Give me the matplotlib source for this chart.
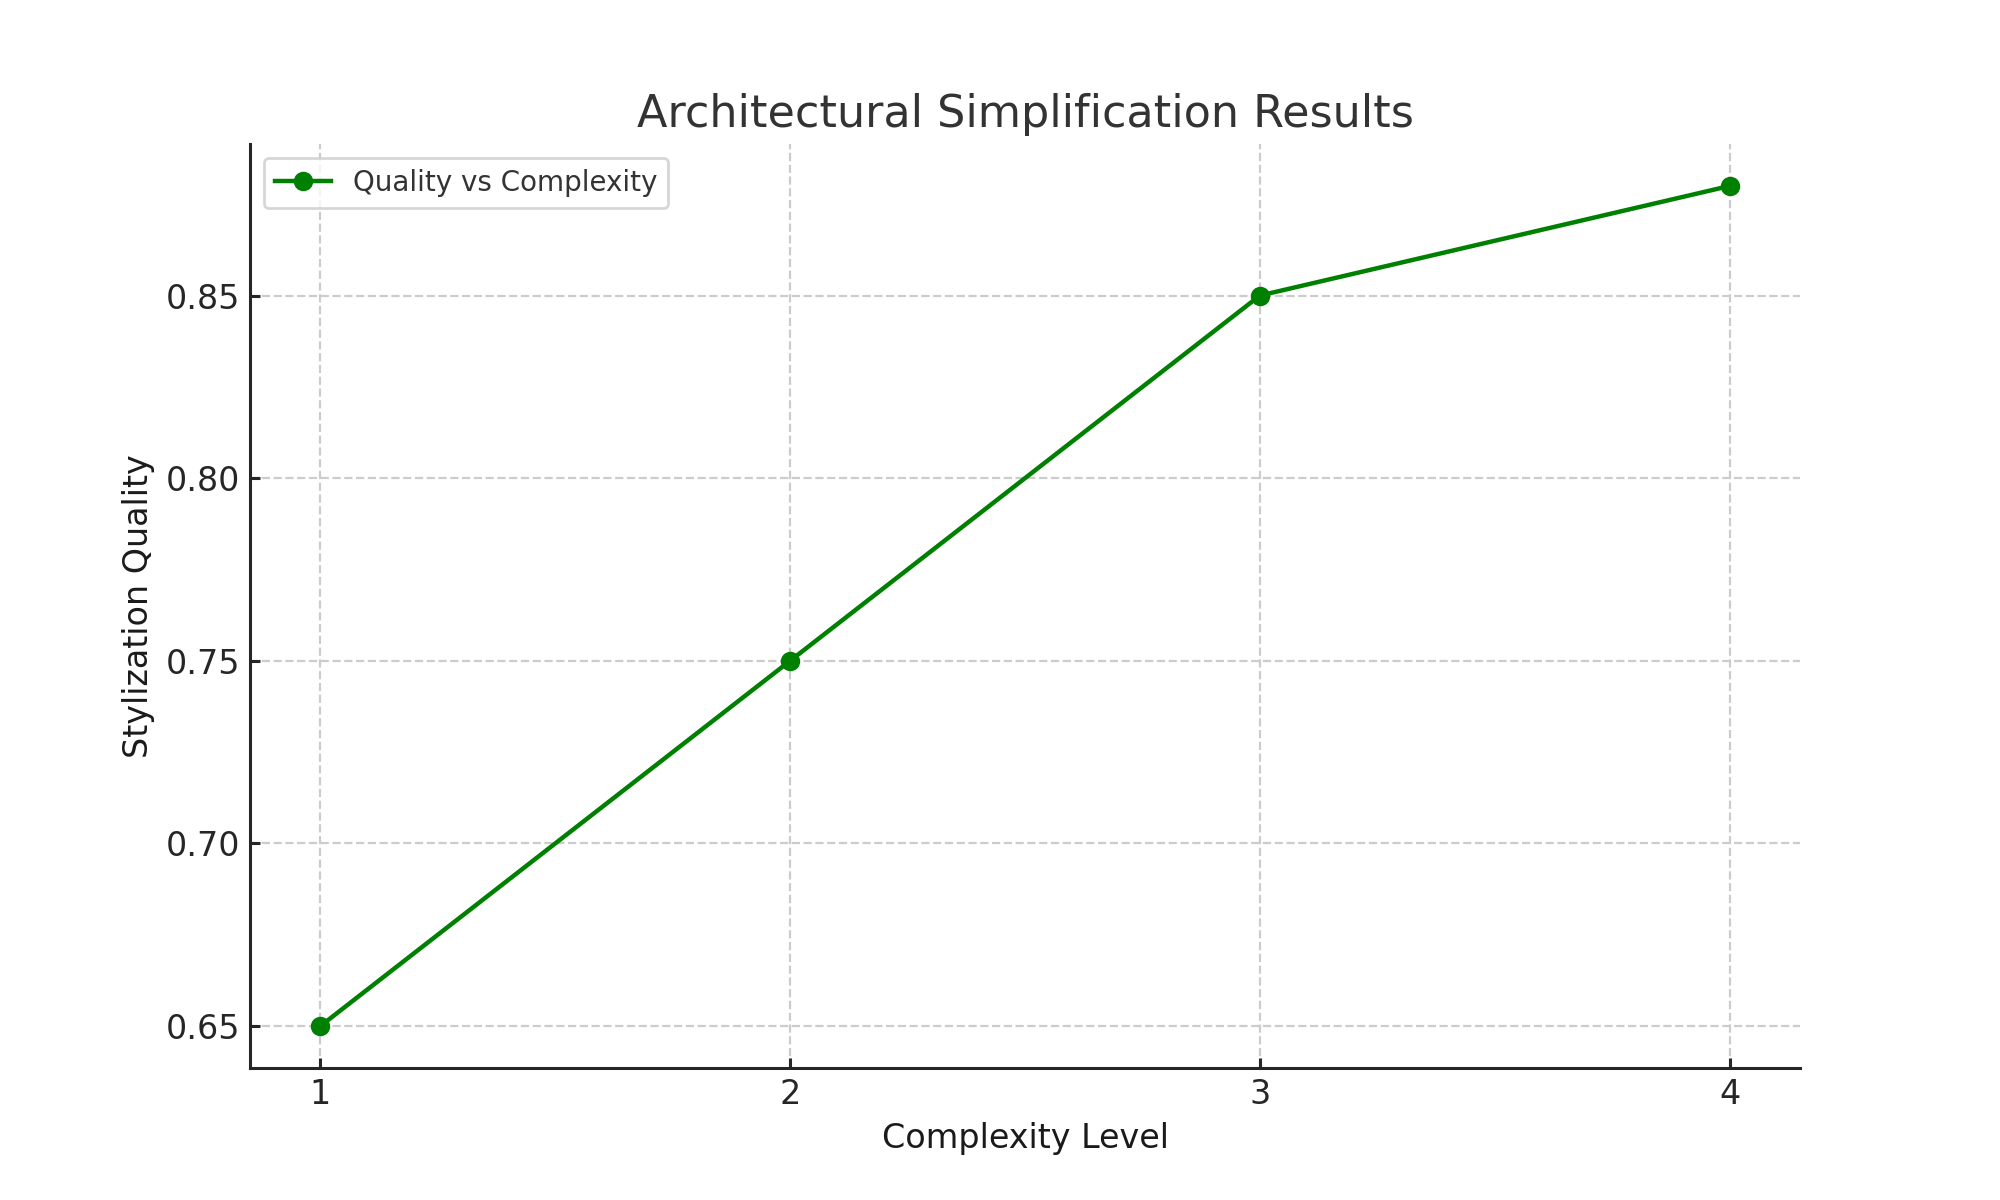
import matplotlib
matplotlib.use("Agg")
import matplotlib.pyplot as plt

complexity_levels = [1, 2, 3, 4]
quality = [0.65, 0.75, 0.85, 0.88]
series_label = "Quality vs Complexity"

plt.rcParams['font.family'] = ['DejaVu Sans']

fig, ax = plt.subplots(figsize=(10, 6), dpi=200)
ax.plot(complexity_levels, quality, marker='o', color='green', linewidth=1.6,
        markersize=6, label=series_label)
ax.set_title("Architectural Simplification Results", fontsize=16, color='#333333')
ax.set_xlabel("Complexity Level", fontsize=12, color='#1a1a1a')
ax.set_ylabel("Stylization Quality", fontsize=12, color='#1a1a1a')
ax.set_xticks(complexity_levels)
ax.set_yticks([0.65, 0.70, 0.75, 0.80, 0.85])
ax.tick_params(direction='in', labelsize=12, colors='#262626', length=3.5, width=1.1)
for s in ['top', 'right']:
    ax.spines[s].set_visible(False)
for s in ['left', 'bottom']:
    ax.spines[s].set_color('#262626')
    ax.spines[s].set_linewidth(1.1)
ax.grid(True, linestyle='--', color='#cccccc', linewidth=0.8)
ax.set_axisbelow(True)
leg = ax.legend(loc='upper left', fontsize=10, frameon=True)
leg.get_frame().set_edgecolor('#cccccc')
for t in leg.get_texts():
    t.set_color('#333333')

fig.savefig("out.png", dpi=200)
